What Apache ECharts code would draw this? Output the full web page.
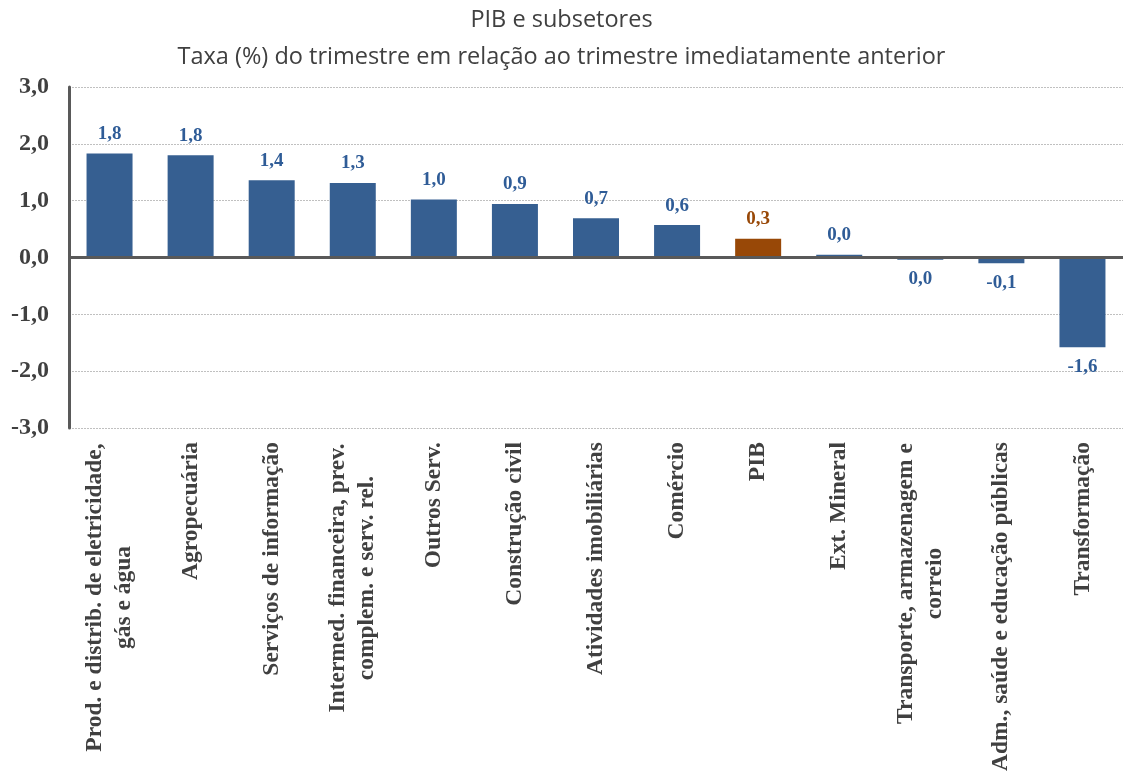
<!DOCTYPE html>
<html>
<head>
<meta charset="utf-8">
<script src="https://cdn.jsdelivr.net/npm/echarts@6/dist/echarts.min.js"></script>
<style>
  html, body { margin: 0; padding: 0; background: #fff; }
  #chart { width: 1123px; height: 778px; }
</style>
</head>
<body>
<div id="chart"></div>
<script>
const categories = [
  'Prod. e distrib. de eletricidade,\ngás e água',
  'Agropecuária',
  'Serviços de informação',
  'Intermed. financeira, prev.\ncomplem. e serv. rel.',
  'Outros Serv.',
  'Construção civil',
  'Atividades imobiliárias',
  'Comércio',
  'PIB',
  'Ext. Mineral',
  'Transporte, armazenagem e\ncorreio',
  'Adm., saúde e educação públicas',
  'Transformação'
]
const values = [1.83, 1.80, 1.36, 1.31, 1.02, 0.94, 0.69, 0.57, 0.33, 0.05, -0.04, -0.10, -1.58]
const valueLabels = ['1,8', '1,8', '1,4', '1,3', '1,0', '0,9', '0,7', '0,6', '0,3', '0,0', '0,0', '-0,1', '-1,6']
const highlight = 'PIB'
const yMin = -3
const yMax = 3
const yStep = 1

const BLUE = '#365f91'
const BLUE_LABEL = '#2f5c97'
const BROWN = '#984807'
const GREY = '#404040'
const SERIF = '"Liberation Serif", "Times New Roman", serif'
const catFont = 23.5

// measure lines so wrapped labels are centred like the original
const ctx = document.createElement('canvas').getContext('2d')
ctx.font = 'bold ' + catFont + 'px ' + SERIF
const rich = {}
categories.forEach((c, i) => {
  const lines = c.split('\n')
  if (lines.length > 1) {
    const w = Math.max(...lines.map(l => ctx.measureText(l).width))
    rich['c' + i] = {
      width: Math.ceil(w) + 2, align: 'center',
      fontSize: catFont, fontWeight: 'bold', fontFamily: SERIF, color: GREY, lineHeight: 29
    }
  }
})

const fmt = v => v.toFixed(1).replace('.', ',')
const titleStyle = { color: GREY, fontSize: 23.5, fontWeight: 'normal', fontFamily: '"Open Sans", sans-serif' }

const chart = echarts.init(document.getElementById('chart'))

const option = {
  animation: false,
  title: [
    { text: 'PIB e subsetores', left: 'center', top: 3, textStyle: titleStyle },
    { text: 'Taxa (%) do trimestre em relação ao trimestre imediatamente anterior', left: 'center', top: 40, textStyle: titleStyle }
  ],
  grid: { left: 69, top: 87, width: 1060, height: 341 },
  xAxis: {
    type: 'category',
    data: categories,
    axisLine: { show: false, onZero: false },
    axisTick: { show: false },
    axisLabel: {
      interval: 0,
      rotate: 90,
      margin: 14,
      color: GREY,
      fontSize: catFont,
      fontWeight: 'bold',
      fontFamily: SERIF,
      lineHeight: 29,
      rich: rich,
      formatter: (v, i) => {
        const lines = v.split('\n')
        if (lines.length === 1) return v
        return lines.map(l => '{c' + i + '|' + l + '}').join('\n')
      }
    }
  },
  yAxis: {
    type: 'value',
    min: yMin,
    max: yMax,
    interval: yStep,
    axisLine: { show: true, lineStyle: { color: '#595959', width: 3 } },
    axisTick: { show: false },
    axisLabel: {
      margin: 20,
      color: GREY,
      fontSize: 24,
      fontWeight: 'bold',
      fontFamily: SERIF,
      formatter: fmt
    },
    splitLine: { lineStyle: { color: '#c0c0c0', type: [2, 1], width: 1 } }
  },
  series: [{
    type: 'bar',
    barWidth: 46,
    data: values.map((v, i) => ({
      value: v,
      itemStyle: { color: categories[i] === highlight ? BROWN : BLUE },
      label: {
        position: v < 0 ? 'bottom' : 'top',
        color: categories[i] === highlight ? BROWN : BLUE_LABEL
      }
    })),
    label: {
      show: true,
      distance: 10,
      fontSize: 19,
      fontWeight: 'bold',
      fontFamily: SERIF,
      formatter: p => valueLabels[p.dataIndex]
    },
    markLine: {
      silent: true,
      symbol: 'none',
      label: { show: false },
      lineStyle: { color: '#595959', width: 3, type: 'solid' },
      data: [{ yAxis: 0 }]
    }
  }]
}

chart.setOption(option)
window.addEventListener('resize', () => chart.resize())
</script>
</body>
</html>
